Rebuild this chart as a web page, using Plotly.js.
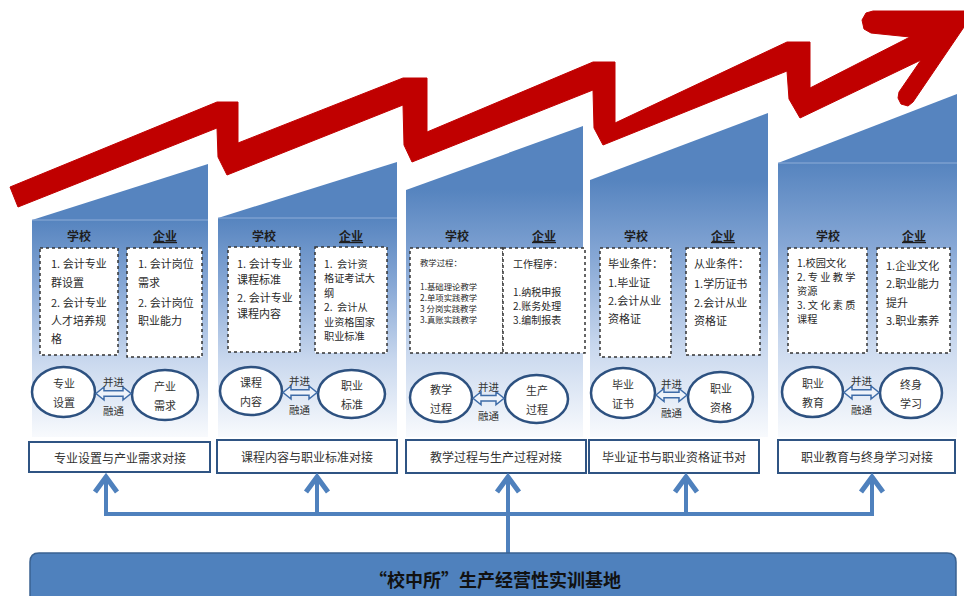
<!DOCTYPE html>
<html>
<head>
<meta charset="utf-8">
<script src="https://cdn.plot.ly/plotly-3.0.1.min.js"></script>
<style>html,body{margin:0;padding:0;background:#fff;}#chart{width:964px;height:596px;}</style>
</head>
<body>
<div id="chart"></div>
<script>
// ---------- content ----------
const schoolHeader = '学校';
const enterpriseHeader = '企业';
const schoolItems = [
  ['1. 会计专业', '群设置', '2. 会计专业', '人才培养规', '格'],
  ['1. 会计专业', '课程标准', '2. 会计专业', '课程内容'],
  ['教学过程：', '', '1.基础理论教学', '2.单项实践教学', '3 分岗实践教学', '3.真账实践教学'],
  ['毕业条件：', '1.毕业证', '2.会计从业', '资格证'],
  ['1.校园文化', '2. 专 业 教 学', '资源', '3. 文 化 素 质', '课程']
];
const enterpriseItems = [
  ['1. 会计岗位', '需求', '2. 会计岗位', '职业能力'],
  ['1.  会计资', '格证考试大', '纲', '2.  会计从', '业资格国家', '职业标准'],
  ['工作程序：', '', '1.纳税申报', '2.账务处理', '3.编制报表'],
  ['从业条件：', '1.学历证书', '2.会计从业', '资格证'],
  ['1.企业文化', '2.职业能力', '提升', '3.职业素养']
];
const leftCircle = [['专业', '设置'], ['课程', '内容'], ['教学', '过程'], ['毕业', '证书'], ['职业', '教育']];
const rightCircle = [['产业', '需求'], ['职业', '标准'], ['生产', '过程'], ['职业', '资格'], ['终身', '学习']];
const linkTop = '并进';
const linkBottom = '融通';
const dockLabels = ['专业设置与产业需求对接', '课程内容与职业标准对接', '教学过程与生产过程对接', '毕业证书与职业资格证书对', '职业教育与终身学习对接'];
const baseTitle = '“校中所”生产经营性实训基地';

// ---------- layout geometry ----------
const panelL = [32, 218, 406, 590, 778];
const panelR = [208, 397, 583, 768, 957];
const panelBodyTop = [220, 218, 190, 180, 163];
const panelTopR = [164, 162, 126, 113, 94];
const panelBottom = 437;
const bodyLine = [true, true, false, false, true];

const schoolBox = [[40,248,118,355],[228,247,300,352],[410,248,503,353],[600,248,671,357],[788,248,867,353]];
const entBox = [[127,248,202,357],[315,247,387,353],[503,248,585,353],[686,248,760,355],[877,248,950,353]];
const schoolY = [[263,282,302,320,338],[263,279,297,313],[262,276,286,297,308,319],[263,282,300,318],[262,276.5,290.5,304.5,318.5]];
const entY = [[263,282,302,320],[263,277.5,292,306.5,321,335.5],[263,277,291,305,319],[263,283,302,320],[265,283,302,320]];
const schoolFont = [11, 11, 8.4, 11, 10.2];
const entFont = [11, 10.2, 10, 11, 11];
const textPad = [9, 7, 8, 6, 7];

const ellL = [[32,367,95,417],[220,367,282,415],[410,373,472,422],[591,368,655,418],[782,367,843,417]];
const ellR = [[132,370,198,420],[318,370,385,418],[505,375,568,423],[688,372,753,422],[880,368,942,418]];

const labelBox = [[29,442,210,472],[217,440,397,473],[406,440,586,473],[589,440,759,473],[778,440,955,473]];
const connX = [106, 317, 508, 686, 872];
const busY = 514, tipY = 477;
const baseBox = [30, 553, 956, 600];

const redArrow = [[10,187],[217,102],[238,102],[238,143],[403,78],[427,78],[427,132],[593,62],[615,62],[615,123],
  [787,42],[810,42],[810,88],[910,37],[871,33],[864,29],[862,20],[866,13],[873,11],[964,11],[964,27],
  [913,102],[908,106],[901,104],[898,98],[899,92],[921,60],[800,118],[789,99],[787,71],[603,145],[594,128],
  [593,90],[412,162],[404,145],[403,105],[227,175],[218,157],[217,128],[18,207]];

const FONT = 'Noto Sans CJK SC, sans-serif';
const BLUE = '#4f81bd';

// ---------- build ----------
const traces = [];
const shapes = [];
const ann = [];

function txt(x, y, text, size, opts) {
  opts = opts || {};
  ann.push(Object.assign({
    x: x, y: y, xref: 'x', yref: 'y', text: text, showarrow: false,
    xanchor: opts.xanchor || 'center', yanchor: 'middle',
    font: Object.assign({family: FONT, size: size, color: opts.color || '#262626'}, opts.font || {})
  }, opts.extra || {}));
}

for (let i = 0; i < 5; i++) {
  const L = panelL[i], R = panelR[i];
  traces.push({
    type: 'scatter', mode: 'lines', hoverinfo: 'skip',
    x: [L, R, R, L, L], y: [panelBodyTop[i], panelTopR[i], panelBottom, panelBottom, panelBodyTop[i]],
    fill: 'toself', line: {width: 0, color: 'rgba(0,0,0,0)'},
    fillgradient: {type: 'vertical', start: panelBodyTop[i], stop: panelBottom,
      colorscale: [[0, '#5684bf'], [0.3, '#86a7d5'], [0.65, '#c9d8ee'], [1, '#f8fafd']]}
  });
  if (bodyLine[i]) {
    shapes.push({type: 'line', xref: 'x', yref: 'y', x0: L, x1: R, y0: panelBodyTop[i], y1: panelBodyTop[i],
      line: {color: '#8eadd8', width: 1}});
  }
  // dashed boxes
  [schoolBox[i], entBox[i]].forEach(b => {
    shapes.push({type: 'rect', xref: 'x', yref: 'y', x0: b[0], y0: b[1], x1: b[2], y1: b[3],
      fillcolor: '#ffffff', line: {color: '#333333', width: 1.5, dash: 'dot'}});
  });
  // headers
  txt((schoolBox[i][0] + schoolBox[i][2]) / 2, 235, schoolHeader, 12, {font: {weight: 'bold'}, color: '#1e1e1e'});
  txt((entBox[i][0] + entBox[i][2]) / 2, 235, enterpriseHeader, 12, {font: {weight: 'bold', lineposition: 'under'}, color: '#1e1e1e'});
  // items
  schoolItems[i].forEach((t, k) => { if (t) txt(schoolBox[i][0] + textPad[i], schoolY[i][k], t, schoolFont[i], {xanchor: 'left', color: '#2a2a2a'}); });
  enterpriseItems[i].forEach((t, k) => { if (t) txt(entBox[i][0] + textPad[i], entY[i][k], t, entFont[i], {xanchor: 'left', color: '#2a2a2a'}); });
  // ellipses
  [[ellL[i], leftCircle[i]], [ellR[i], rightCircle[i]]].forEach(([e, words]) => {
    shapes.push({type: 'circle', xref: 'x', yref: 'y', x0: e[0], y0: e[1], x1: e[2], y1: e[3],
      fillcolor: '#ffffff', line: {color: '#2d5180', width: 2.5}});
    const cx = (e[0] + e[2]) / 2, cy = (e[1] + e[3]) / 2;
    txt(cx, cy - 9, words[0], 11, {color: '#333'});
    txt(cx, cy + 10, words[1], 11, {color: '#333'});
  });
  // double arrow
  const a0 = ellL[i][2] + 1, a1 = ellR[i][0] - 1;
  const cy = (ellL[i][1] + ellL[i][3] + ellR[i][1] + ellR[i][3]) / 4;
  const hl = 8, hh = 6.5, sh = 2.8;
  shapes.push({type: 'path', xref: 'x', yref: 'y',
    path: `M${a0},${cy} L${a0+hl},${cy-hh} L${a0+hl},${cy-sh} L${a1-hl},${cy-sh} L${a1-hl},${cy-hh} L${a1},${cy} L${a1-hl},${cy+hh} L${a1-hl},${cy+sh} L${a0+hl},${cy+sh} L${a0+hl},${cy+hh} Z`,
    fillcolor: '#eef3fa', line: {color: '#3e6ca8', width: 1.5}});
  const mx = (a0 + a1) / 2;
  txt(mx, cy - 12, linkTop, 10.5, {color: '#333'});
  txt(mx, cy + 17, linkBottom, 10.5, {color: '#333'});
  // dock label boxes
  const lb = labelBox[i];
  shapes.push({type: 'rect', xref: 'x', yref: 'y', x0: lb[0], y0: lb[1], x1: lb[2], y1: lb[3],
    fillcolor: '#ffffff', line: {color: '#2f5483', width: 2}});
  txt((lb[0] + lb[2]) / 2, (lb[1] + lb[3]) / 2, dockLabels[i], 12, {color: '#333'});
  // connector arrows
  const cx = connX[i];
  shapes.push({type: 'line', xref: 'x', yref: 'y', x0: cx, x1: cx, y0: busY, y1: tipY + 1, line: {color: BLUE, width: 4}});
  shapes.push({type: 'path', xref: 'x', yref: 'y', path: `M${cx-11},${tipY+15} L${cx},${tipY} L${cx+11},${tipY+15}`,
    line: {color: BLUE, width: 5}});
}

// bus and trunk
shapes.push({type: 'line', xref: 'x', yref: 'y', x0: connX[0] - 2, x1: connX[4] + 2, y0: busY, y1: busY, line: {color: BLUE, width: 4}});
shapes.push({type: 'line', xref: 'x', yref: 'y', x0: connX[2], x1: connX[2], y0: busY, y1: baseBox[1], line: {color: BLUE, width: 4}});

// base bar
{
  const [x0, y0, x1, y1] = baseBox, r = 9;
  shapes.push({type: 'path', xref: 'x', yref: 'y',
    path: `M${x0+r},${y0} L${x1-r},${y0} Q${x1},${y0} ${x1},${y0+r} L${x1},${y1} L${x0},${y1} L${x0},${y0+r} Q${x0},${y0} ${x0+r},${y0} Z`,
    fillcolor: BLUE, line: {color: '#3a6291', width: 1.5}});
  txt(495, 579, baseTitle, 18, {color: '#111', font: {weight: 'bold'}});
}

// red zigzag arrow
shapes.push({type: 'path', xref: 'x', yref: 'y',
  path: 'M' + redArrow.map(p => p[0] + ',' + p[1]).join(' L') + ' Z',
  fillcolor: '#c00000', line: {color: '#c00000', width: 1}});

const layout = {
  width: 964, height: 596,
  margin: {l: 0, r: 0, t: 0, b: 0, pad: 0},
  paper_bgcolor: '#ffffff', plot_bgcolor: '#ffffff',
  showlegend: false,
  xaxis: {range: [0, 964], visible: false, fixedrange: true},
  yaxis: {range: [596, 0], visible: false, fixedrange: true},
  shapes: shapes,
  annotations: ann
};

Plotly.newPlot('chart', traces, layout, {displayModeBar: false, staticPlot: true});
</script>
</body>
</html>
